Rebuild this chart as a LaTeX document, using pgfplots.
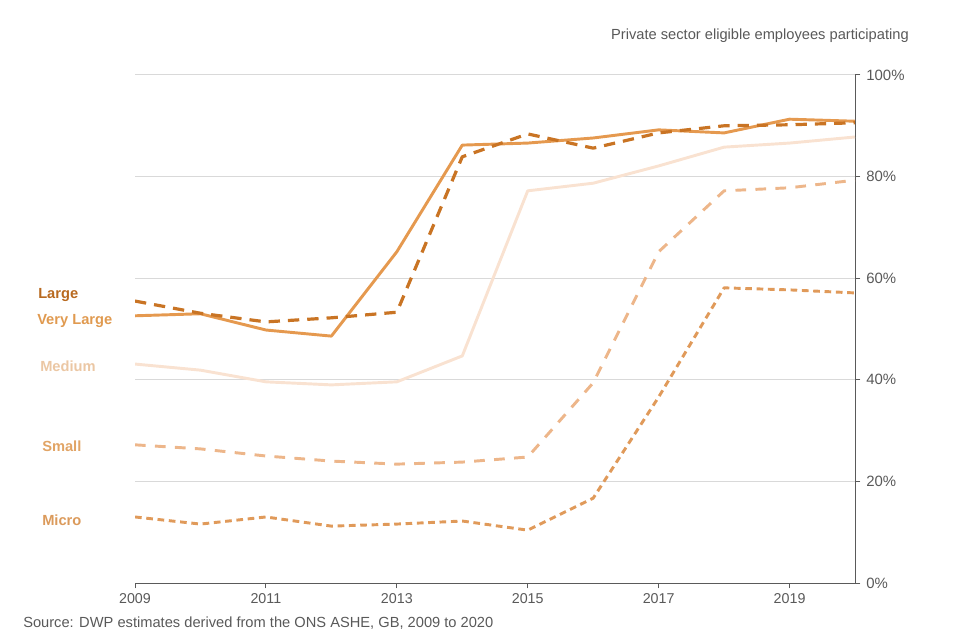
\documentclass[border=0pt]{standalone}
\usepackage{pgfplots}
\pgfplotsset{compat=1.18}
\usepackage{fontspec}
\setmainfont{Liberation Sans}
\definecolor{cLarge}{HTML}{C97424}
\definecolor{cLargeT}{HTML}{B8691F}
\definecolor{cVL}{HTML}{E5994F}
\definecolor{cVLT}{HTML}{E09A50}
\definecolor{cMed}{HTML}{F9E2D1}
\definecolor{cMedT}{HTML}{EBC7A4}
\definecolor{cSmall}{HTML}{EDB68A}
\definecolor{cSmallT}{HTML}{E1A465}
\definecolor{cMicro}{HTML}{E09A5A}
\definecolor{cMicroT}{HTML}{DB9A5B}
\definecolor{txt}{HTML}{595959}
\definecolor{axc}{HTML}{5A5A5A}
\definecolor{gridc}{HTML}{D9D9D9}
\begin{document}
\begin{tikzpicture}
\path[use as bounding box] (0pt,0pt) rectangle (720pt,480pt);
\begin{axis}[
  at={(101.25pt,42.75pt)}, anchor=south west,
  scale only axis, width=540pt, height=381pt,
  xmin=2009, xmax=2020, ymin=0, ymax=100,
  axis x line*=bottom, axis y line*=right,
  axis line style={color=axc, line width=0.75pt},
  tick align=outside, major tick length=4pt,
  tick style={color=axc, line width=0.75pt},
  xtick={2009,2011,...,2019},
  ytick={0,20,...,100},
  ymajorgrids, grid style={color=gridc, line width=0.75pt},
  /pgf/number format/assume math mode=true,
  /pgf/number format/1000 sep={},
  xticklabel style={font=\fontsize{10.7}{12}\selectfont, color=txt},
  yticklabel style={font=\fontsize{11.2}{12}\selectfont, color=txt, anchor=west, xshift=1pt},
  yticklabel={\pgfmathprintnumber{\tick}\%},
  every axis plot/.append style={line width=2.2pt, no markers, line join=round},
]
\addplot[color=cMed] coordinates {(2009,43.1)(2010,41.9)(2011,39.6)(2012,39.0)(2013,39.6)(2014,44.7)(2015,77.2)(2016,78.7)(2017,82.1)(2018,85.8)(2019,86.6)(2020,87.8)};
\addplot[color=cSmall, dash pattern=on 8pt off 7pt] coordinates {(2009,27.2)(2010,26.4)(2011,25.0)(2012,24.0)(2013,23.4)(2014,23.8)(2015,24.8)(2016,39.4)(2017,65.2)(2018,77.2)(2019,77.8)(2020,79.3)};
\addplot[color=cMicro, dash pattern=on 5pt off 3.5pt] coordinates {(2009,13.0)(2010,11.6)(2011,13.0)(2012,11.2)(2013,11.6)(2014,12.2)(2015,10.4)(2016,16.7)(2017,36.6)(2018,58.1)(2019,57.7)(2020,57.1)};
\addplot[color=cVL] coordinates {(2009,52.6)(2010,53.0)(2011,49.8)(2012,48.6)(2013,65.2)(2014,86.2)(2015,86.6)(2016,87.6)(2017,89.2)(2018,88.6)(2019,91.3)(2020,90.9)};
\addplot[color=cLarge, line width=2.4pt, dash pattern=on 8.5pt off 6pt] coordinates {(2009,55.5)(2010,53.1)(2011,51.4)(2012,52.2)(2013,53.3)(2014,83.9)(2015,88.4)(2016,85.6)(2017,88.6)(2018,90.0)(2019,90.2)(2020,90.6)};
\end{axis}
\begin{scope}[x=0.75pt,y=0.75pt, every node/.style={font=\bfseries\fontsize{11}{13}\selectfont, anchor=west, inner sep=0pt}]
\node[color=cLargeT] at (38,345) {Large};
\node[color=cVLT] at (37,319) {Very Large};
\node[color=cMedT] at (40,274) {Medium};
\node[color=cSmallT] at (42,194) {Small};
\node[color=cMicroT] at (42,120) {Micro};
\node[font=\fontsize{11}{13}\selectfont, color=txt, anchor=east] at (909,604) {Private sector eligible employees participating};
\node[font=\fontsize{11}{13}\selectfont, color=txt, anchor=west] at (23,17) {Source: DWP estimates derived from the ONS ASHE, GB, 2009 to 2020};
\end{scope}
\end{tikzpicture}
\end{document}
